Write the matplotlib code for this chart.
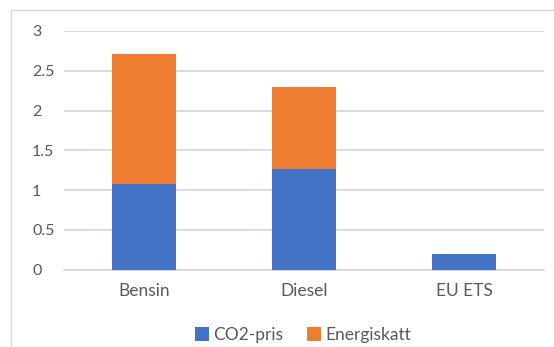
import matplotlib.pyplot as plt
from matplotlib.lines import Line2D
import numpy as np

categories = ["Bensin", "Diesel", "EU ETS"]
co2_pris = [1.08, 1.27, 0.20]
energiskatt = [1.63, 1.02, 0.0]
yticks = [0, 0.5, 1, 1.5, 2, 2.5, 3]
ytick_labels = ["0", "0.5", "1", "1.5", "2", "2.5", "3"]

blue = "#4472C4"
orange = "#ED7D31"
grid = "#D9D9D9"
txt = "#595959"

plt.rcParams["font.family"] = ["Lato", "DejaVu Sans"]

fig = plt.figure(figsize=(5.54, 3.47), dpi=100)
ax = fig.add_axes([64 / 554, 1 - 269.5 / 347, 480 / 554, 238.5 / 347])

x = np.arange(len(categories))
ax.bar(x, co2_pris, width=0.4, color=blue, label="CO2-pris", zorder=3)
ax.bar(x, energiskatt, width=0.4, bottom=co2_pris, color=orange,
       label="Energiskatt", zorder=3)

ax.set_xlim(-0.5, 2.5)
ax.set_ylim(0, 3)
ax.set_yticks(yticks)
ax.set_yticklabels(ytick_labels)
ax.set_xticks(x)
ax.set_xticklabels(categories)
ax.yaxis.grid(True, color=grid, linewidth=1.3, zorder=0)
for s in ["top", "right", "left"]:
    ax.spines[s].set_visible(False)
ax.spines["bottom"].set_color(grid)
ax.spines["bottom"].set_linewidth(1.3)
ax.tick_params(axis="y", length=0, labelsize=11.5, labelcolor=txt, pad=23)
ax.tick_params(axis="x", length=0, labelsize=12.5, labelcolor=txt, pad=10)
for lab in ax.get_yticklabels():
    lab.set_horizontalalignment("left")

# chart frame (top and left edges)
fig.add_artist(Line2D([11 / 554, 1], [1 - 10 / 347, 1 - 10 / 347],
                      transform=fig.transFigure, color=grid, linewidth=1))
fig.add_artist(Line2D([11 / 554, 11 / 554], [0, 1 - 10 / 347],
                      transform=fig.transFigure, color=grid, linewidth=1))

fig.legend(loc="center", bbox_to_anchor=(303 / 554, 1 - 335 / 347), ncol=2,
           frameon=False, fontsize=12.5, handlelength=0.8, handleheight=0.8,
           handletextpad=0.25, columnspacing=1.4, labelcolor=txt)

fig.savefig("out.png", dpi=100)
